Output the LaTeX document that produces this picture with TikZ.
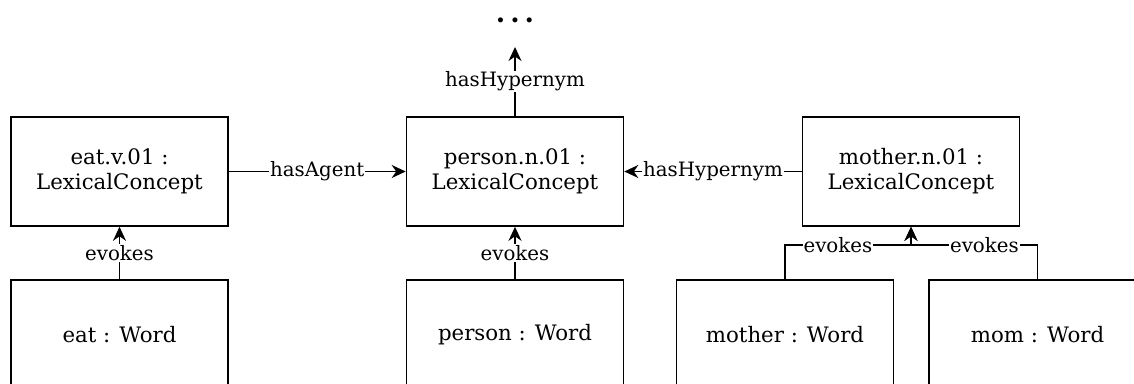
\documentclass[tikz,border=0pt]{standalone}
\usepackage{fontspec}
\setmainfont{DejaVu Serif}
\usetikzlibrary{arrows.meta,calc}
\begin{document}
\begin{tikzpicture}[x=1pt,y=-1pt,
  box/.style={draw,line width=1.6pt,minimum width=217pt,minimum height=109pt,inner sep=0pt,align=center,font=\fontsize{21.3}{25}\selectfont},
  conn/.style={line width=1.7pt,-{Stealth[length=14pt,width=13pt,inset=4.5pt]}},
  lab/.style={fill=white,inner sep=1pt,font=\fontsize{19.8}{22}\selectfont}]
\useasboundingbox (0,0) rectangle (1134,383);
\clip (0,0) rectangle (1134,383);
\node[box] (eatc) at (119.5,171.5) {eat.v.01 :\\LexicalConcept};
\node[box] (personc) at (515,171.5) {person.n.01 :\\LexicalConcept};
\node[box] (motherc) at (911,171.5) {mother.n.01 :\\LexicalConcept};
\node[box] (eatw) at (119.5,334.5) {eat : Word};
\node[box] (personw) at (515,334.5) {person : Word};
\node[box] (motherw) at (785,334.5) {mother : Word};
\node[box] (momw) at (1037.5,334.5) {mom : Word};
\node[font=\fontsize{27}{30}\selectfont\bfseries,inner sep=0pt,anchor=base] (dots) at (515,22.5) {.\hspace{5pt}.\hspace{5pt}.};
\coordinate (up) at (515,47);
\draw[conn] (eatc) -- node[lab]{hasAgent} (personc);
\draw[conn] (motherc) -- node[lab]{hasHypernym} (personc);
\draw[conn] (personc.north) -- node[lab]{hasHypernym} (up);
\draw[conn] (eatw) -- node[lab]{evokes} (eatc);
\draw[conn] (personw) -- node[lab]{evokes} (personc);
\coordinate (mj) at ($(motherc.south)+(0,18)$);
\draw[conn] (motherw.north) |- node[lab,pos=0.71]{evokes} (mj) -- (motherc.south);
\draw[conn] (momw.north) |- node[lab,pos=0.71]{evokes} (mj) -- (motherc.south);
\end{tikzpicture}
\end{document}
